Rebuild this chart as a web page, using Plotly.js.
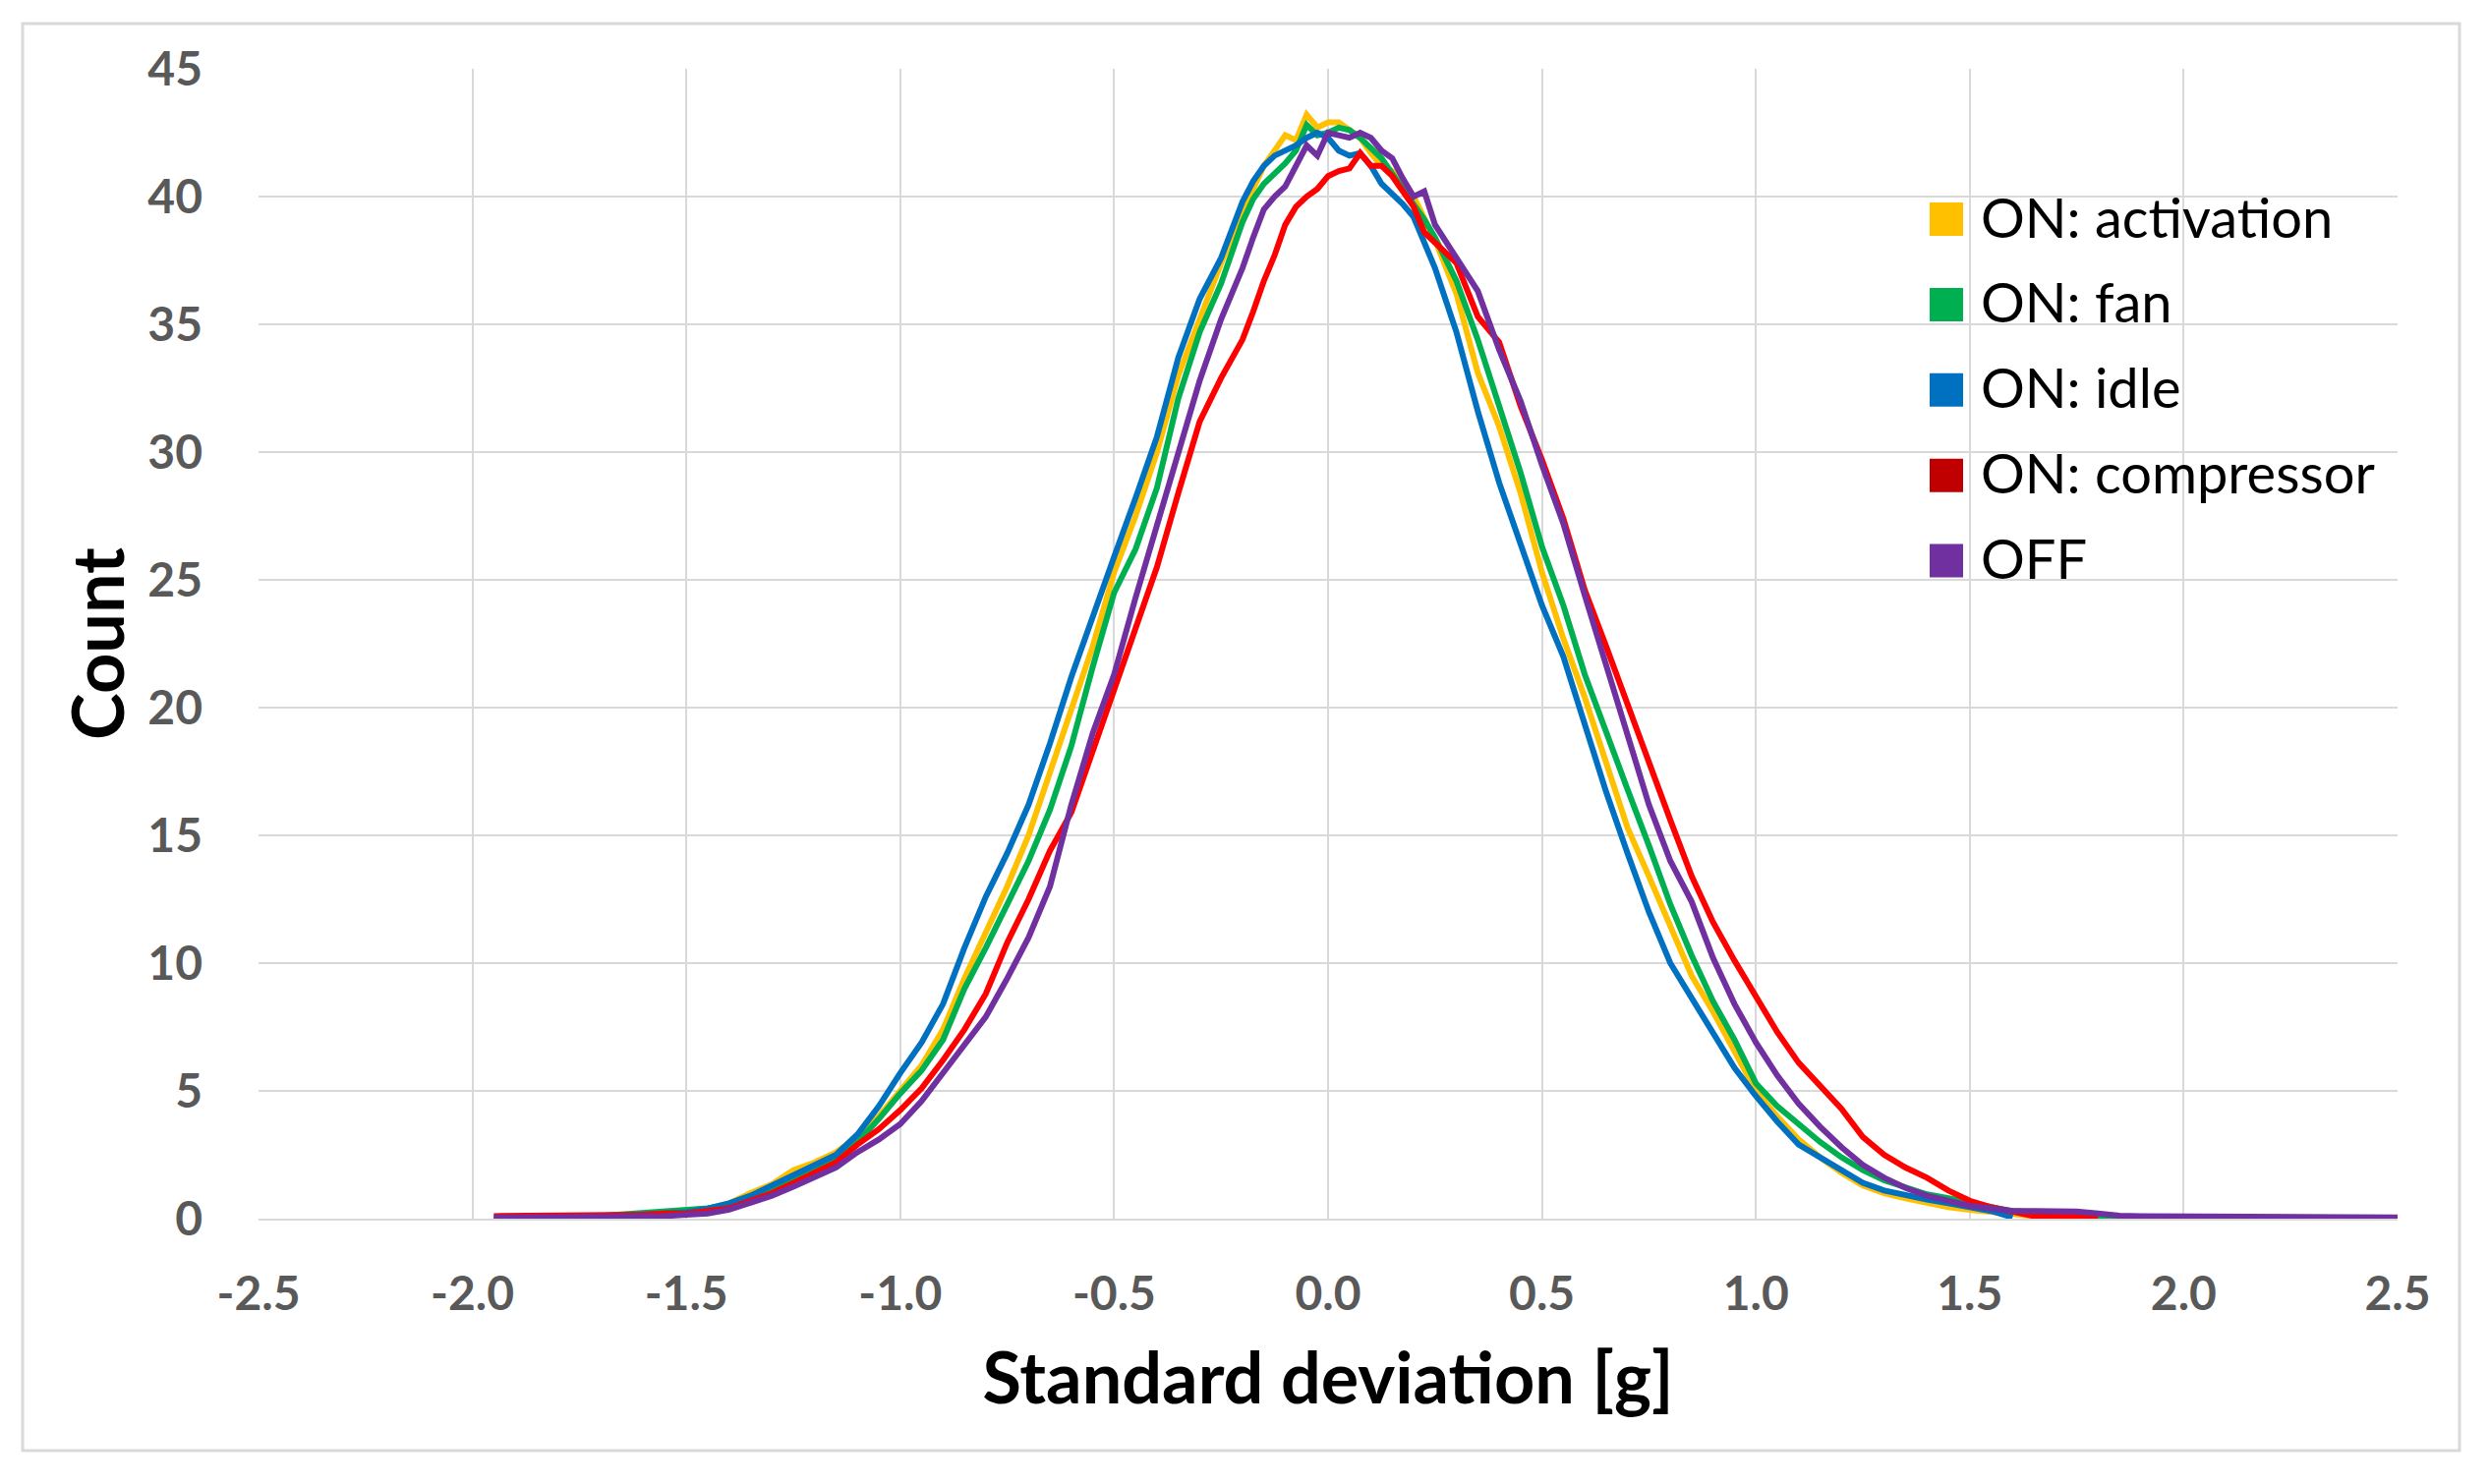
<!DOCTYPE html>
<html>
<head>
<meta charset="utf-8">
<script src="https://cdn.plot.ly/plotly-3.0.1.min.js"></script>
<style>html,body{margin:0;padding:0;background:#fff;}#chart{width:2532px;height:1510px;}</style>
</head>
<body>
<div id="chart"></div>
<script>
// Standard deviation [g] grid
const dev = [-1.95,-1.90,-1.85,-1.80,-1.75,-1.70,-1.65,-1.60,-1.55,-1.50,-1.45,-1.40,-1.35,-1.30,-1.25,-1.20,-1.15,-1.10,-1.05,-1.00,
  -0.95,-0.90,-0.85,-0.80,-0.75,-0.70,-0.65,-0.60,-0.55,-0.50,-0.45,-0.40,-0.35,-0.30,-0.25,-0.20,
  -0.175,-0.15,-0.125,-0.10,-0.075,-0.05,-0.025,0,0.025,0.05,0.075,0.10,0.125,0.15,0.175,0.20,0.225,0.25,
  0.30,0.35,0.40,0.45,0.50,0.55,0.60,0.65,0.70,0.75,0.80,0.85,0.90,0.95,1.00,1.05,1.10,1.15,1.20,1.25,1.30,1.35,1.40,1.45,1.50,
  1.55,1.60,1.65,1.70,1.75,1.80,1.85,1.90,1.95,2.00,2.05,2.10,2.15,2.20,2.25,2.30,2.35,2.40,2.45,2.50];

const onActivation = [null,null,null,null,0.05,0.1,0.15,0.2,0.2,0.25,0.4,0.6,1.0,1.35,1.9,2.2,2.6,3.2,4.0,5.0,
  6.0,7.4,9.4,11.2,13.0,15.0,17.5,19.9,22.4,25.3,27.5,30.0,33.0,35.2,37.4,39.4,
  40.3,41.2,41.8,42.4,42.2,43.2,42.7,42.9,42.9,42.6,42.3,41.7,41.2,41.0,40.6,40.0,39.2,38.3,
  36.2,33.1,31.0,28.4,25.3,22.7,20.4,17.9,15.3,13.4,11.4,9.5,8.1,6.5,5.0,4.0,3.1,2.4,1.8,1.3,1.0,0.8,0.6,0.45,0.35,
  0.25,0.15,0.1,0.05,null,null,null,null,null,null,null,null,null,null,null,null,null,null,null,null];

const onFan = [null,null,null,null,0.05,0.1,0.2,0.2,0.25,0.3,0.4,0.5,0.8,1.1,1.6,2.0,2.4,3.0,3.9,4.9,
  5.8,7.0,9.0,10.6,12.3,14.0,16.0,18.5,21.6,24.5,26.2,28.6,32.1,34.7,36.6,39.0,
  39.9,40.5,40.9,41.3,41.8,42.8,42.4,42.5,42.7,42.6,42.3,41.9,41.5,40.9,40.3,39.8,39.1,38.4,
  36.7,34.4,31.8,29.2,26.3,24.0,21.3,19.0,16.8,14.6,12.3,10.3,8.5,7.0,5.3,4.4,3.7,3.0,2.4,1.9,1.5,1.2,0.95,0.8,0.6,
  0.45,0.3,0.25,0.2,0.15,0.1,0.05,0.03,null,null,null,null,null,null,null,null,null,null,null,null];

const onIdle = [null,null,null,null,0.05,0.1,0.15,0.15,0.2,0.25,0.4,0.6,0.9,1.3,1.75,2.1,2.5,3.3,4.4,5.7,
  6.9,8.4,10.6,12.6,14.3,16.2,18.6,21.2,23.6,25.9,28.2,30.6,33.7,36.0,37.6,39.8,
  40.6,41.2,41.6,41.8,42.0,42.3,42.5,42.3,41.8,41.6,41.7,41.2,40.5,40.1,39.7,39.2,38.2,37.2,
  34.7,31.6,28.8,26.4,24.0,22.0,19.3,16.7,14.3,12.0,10.0,8.6,7.2,5.9,4.8,3.8,2.9,2.4,1.9,1.4,1.1,0.9,0.75,0.6,0.45,
  0.3,0.05,null,null,null,null,null,null,null,null,null,null,null,null,null,null,null,null,null,null];

const onCompressor = [0.1,0.1,0.1,0.1,0.1,0.1,0.15,0.15,0.2,0.2,0.3,0.4,0.7,1.0,1.4,1.8,2.2,2.9,3.5,4.25,
  5.1,6.2,7.4,8.8,10.8,12.5,14.4,15.9,18.3,20.8,23.1,25.5,28.4,31.2,32.9,34.4,
  35.5,36.7,37.7,38.9,39.6,40.0,40.3,40.8,41.0,41.1,41.7,41.2,41.2,40.8,40.2,39.6,38.6,38.2,
  37.4,35.3,34.3,31.8,29.7,27.4,24.6,22.4,20.1,17.8,15.6,13.4,11.6,10.1,8.7,7.3,6.1,5.2,4.3,3.2,2.5,2.0,1.6,1.1,0.7,
  0.45,0.25,0.1,0.1,0.08,0.05,null,null,null,null,null,null,null,null,null,null,null,null,null,null];

const off = [0.05,0.05,0.05,0.05,0.05,0.05,0.1,0.1,0.1,0.15,0.2,0.35,0.6,0.9,1.25,1.6,2.0,2.6,3.1,3.7,
  4.6,5.7,6.8,7.9,9.4,11.0,13.0,16.2,19.0,21.3,24.3,27.2,30.0,32.8,35.2,37.2,
  38.4,39.5,40.0,40.4,41.2,42.0,41.6,42.5,42.4,42.3,42.5,42.3,41.8,41.5,40.7,40.0,40.2,38.9,
  37.6,36.3,34.0,32.0,29.5,27.2,24.4,21.6,19.0,16.2,14.0,12.4,10.2,8.4,6.9,5.6,4.5,3.6,2.8,2.1,1.6,1.2,0.9,0.7,0.5,
  0.4,0.3,0.3,0.3,0.28,0.2,0.12,0.1,0.1,0.1,0.1,0.1,0.1,0.1,0.1,0.05,0.05,0.05,0.05,0.05];

const seriesNames = ['ON: activation','ON: fan','ON: idle','ON: compressor','OFF'];
const seriesValues = [onActivation, onFan, onIdle, onCompressor, off];
const lineColors = ['#FFC000','#00B050','#0070C0','#FF0000','#7030A0'];
const swatchColors = ['#FFC000','#00B050','#0070C0','#C00000','#7030A0'];

const xTickVals = [-2.5,-2.0,-1.5,-1.0,-0.5,0.0,0.5,1.0,1.5,2.0,2.5];
const xTickText = ['-2.5','-2.0','-1.5','-1.0','-0.5','0.0','0.5','1.0','1.5','2.0','2.5'];
const yTickVals = [0,5,10,15,20,25,30,35,40,45];

const traces = seriesNames.map((name, i) => ({
  x: dev, y: seriesValues[i], type: 'scatter', mode: 'lines', name: name,
  line: {color: lineColors[i], width: 6}, showlegend: false
}));

const L = 263, R = 2439, T = 70, B = 1240;
const PW = R - L, PH = B - T;
const px = v => (v - L) / PW;
const py = v => (B - v) / PH;

// legend drawn as swatches + labels (Excel-style square swatches)
const legendShapes = [];
const legendAnnotations = [];
seriesNames.forEach((name, i) => {
  const cy = 223 + 86.9 * i;
  legendShapes.push({
    type: 'rect', xref: 'paper', yref: 'paper',
    x0: px(1963), x1: px(1997), y0: py(cy + 17), y1: py(cy - 17),
    fillcolor: swatchColors[i], line: {width: 0}
  });
  legendAnnotations.push({
    xref: 'paper', yref: 'paper', x: px(2013), y: py(cy - 3),
    xanchor: 'left', yanchor: 'middle', showarrow: false, text: name,
    font: {family: 'Lato, sans-serif', size: 56, color: '#000000'}
  });
});

const layout = {
  width: 2532, height: 1510,
  margin: {l: L, r: 2532 - R, t: T, b: 1510 - B, pad: 0},
  paper_bgcolor: '#ffffff', plot_bgcolor: '#ffffff',
  font: {family: 'Lato, "Open Sans", sans-serif', color: '#595959'},
  showlegend: false,
  xaxis: {
    range: [-2.5, 2.5], tickvals: xTickVals, ticktext: xTickText,
    showgrid: true, gridcolor: '#d9d9d9', gridwidth: 2,
    zeroline: false, showline: true, linecolor: '#d9d9d9', linewidth: 2,
    ticks: '', ticklabelstandoff: 33,
    tickfont: {family: 'Lato, sans-serif', size: 48, color: '#595959', weight: 'bold'},
    title: {text: 'Standard deviation [g]', standoff: 36,
      font: {family: 'Lato, sans-serif', size: 72, color: '#000000', weight: 'bold'}},
    automargin: false
  },
  yaxis: {
    range: [0, 45], tickvals: yTickVals,
    showgrid: true, gridcolor: '#d9d9d9', gridwidth: 2,
    zeroline: false, showline: false,
    ticks: '', ticklabelstandoff: 56,
    tickfont: {family: 'Lato, sans-serif', size: 48, color: '#595959', weight: 'bold'},
    title: {text: 'Count', standoff: 0,
      font: {family: 'Lato, sans-serif', size: 72, color: '#000000', weight: 'bold'}},
    automargin: false
  },
  shapes: [{
    type: 'rect', xref: 'paper', yref: 'paper',
    x0: px(23), x1: px(2502), y0: py(1476), y1: py(24),
    line: {color: '#d9d9d9', width: 3}, fillcolor: 'rgba(0,0,0,0)', layer: 'below'
  }].concat(legendShapes),
  annotations: legendAnnotations
};

Plotly.newPlot('chart', traces, layout, {displayModeBar: false, staticPlot: true});
</script>
</body>
</html>
